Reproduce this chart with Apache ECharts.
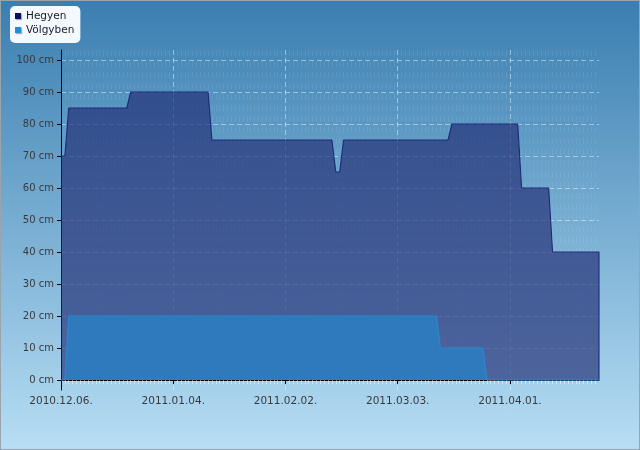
<!DOCTYPE html>
<html>
<head>
<meta charset="utf-8">
<script src="https://cdn.jsdelivr.net/npm/echarts@6/dist/echarts.min.js"></script>
<style>
html, body { margin: 0; padding: 0; }
#wrap { position: relative; width: 640px; height: 450px; background: linear-gradient(to bottom, #3a7eb0 0%, #b7def5 100%); }
#chart { width: 640px; height: 450px; }
#frame { position: absolute; left: 0; top: 0; width: 640px; height: 450px; box-sizing: border-box; border: 1px solid #9aa4ad; pointer-events: none; }
</style>
</head>
<body>
<div id="wrap"><div id="chart"></div><div id="frame"></div></div>
<script>
// time range and tick labels
var startDate = '2010-12-06';
var endDate = '2011-04-24';
var tickDates = ['2010-12-06', '2011-01-04', '2011-02-02', '2011-03-03', '2011-04-01'];
var yTicks = [0, 10, 20, 30, 40, 50, 60, 70, 80, 90, 100];

// Hegyen (mountain) snow depth, cm
var hegyenDates = ['2010-12-06', '2010-12-07', '2010-12-08', '2010-12-23', '2010-12-24', '2011-01-13', '2011-01-14',
    '2011-02-14', '2011-02-15', '2011-02-16', '2011-02-17', '2011-03-16', '2011-03-17', '2011-04-03', '2011-04-04',
    '2011-04-11', '2011-04-12', '2011-04-24', '2011-04-24'];
var hegyenValues = [70, 70, 85, 85, 90, 90, 75, 75, 65, 65, 75, 75, 80, 80, 60, 60, 40, 40, 0];

// Völgyben (valley) snow depth, cm
var volgyDates = ['2010-12-06', '2010-12-07', '2010-12-08', '2011-03-13', '2011-03-14', '2011-03-25', '2011-03-26', '2011-04-24'];
var volgyValues = [0, 0, 20, 20, 10, 10, 0, 0];

function ms(s) {
    var p = s.split('-');
    return Date.UTC(+p[0], +p[1] - 1, +p[2]);
}
var t0 = ms(startDate);
function dayOf(s) { return Math.round((ms(s) - t0) / 86400000); }
function pad(n) { return n < 10 ? '0' + n : '' + n; }
function fmtDay(d) {
    var dt = new Date(t0 + d * 86400000);
    return dt.getUTCFullYear() + '.' + pad(dt.getUTCMonth() + 1) + '.' + pad(dt.getUTCDate()) + '.';
}
function pairs(dates, values) {
    return dates.map(function (d, i) { return [dayOf(d), values[i]]; });
}

var chart = echarts.init(document.getElementById('chart'));
var font = 'DejaVu Sans';
chart.setOption({
    animation: false,
    backgroundColor: 'transparent',
    legend: {
        left: 10,
        top: 6,
        orient: 'vertical',
        backgroundColor: 'rgba(250,253,255,0.97)',
        borderRadius: 5,
        padding: [4, 6, 7, 5],
        itemGap: 2,
        itemWidth: 6,
        itemHeight: 6,
        itemStyle: { shadowBlur: 1, shadowColor: 'rgba(0,0,0,0.3)', shadowOffsetX: 1, shadowOffsetY: 1 },
        icon: 'rect',
        textStyle: { fontFamily: font, fontSize: 10.5, color: '#1a1a2a', lineHeight: 12 },
        data: [
            { name: 'Hegyen', itemStyle: { color: '#0c0c5e' } },
            { name: 'Völgyben', itemStyle: { color: '#1e8fe0' } }
        ]
    },
    grid: { left: 61, right: 41, top: 50, bottom: 60 },
    xAxis: {
        type: 'value',
        min: 0,
        max: dayOf(endDate),
        interval: 29,
        axisLine: { lineStyle: { color: '#000', width: 1 } },
        axisTick: { length: 4, lineStyle: { color: '#000' }, customValues: tickDates.map(dayOf) },
        axisLabel: {
            customValues: tickDates.map(dayOf),
            formatter: fmtDay,
            fontFamily: font, fontSize: 10.5, color: '#3a3a3a', margin: 6
        },
        splitLine: { show: true, lineStyle: { color: 'rgba(255,255,255,0.45)', type: [5, 3] } },
        minorTick: { show: true, splitNumber: 29, length: 4, lineStyle: { color: 'rgba(255,255,255,0.45)' } },
        minorSplitLine: { show: true, lineStyle: { color: 'rgba(255,255,255,0.08)', type: [6, 5] } }
    },
    yAxis: {
        type: 'value',
        min: -3.125,
        max: 103.125,
        axisLine: { show: true, lineStyle: { color: '#000', width: 1 } },
        axisTick: { show: true, length: 4, lineStyle: { color: '#000' }, customValues: yTicks },
        axisLabel: {
            customValues: yTicks,
            formatter: function (v) { return v + ' cm'; },
            fontFamily: font, fontSize: 10, color: '#3a3a3a', margin: 7
        },
        splitLine: { show: true, lineStyle: { color: 'rgba(255,255,255,0.45)', type: [5, 3] } }
    },
    series: [
        {
            name: 'Hegyen',
            type: 'line',
            showSymbol: false,
            symbol: 'none',
            data: pairs(hegyenDates, hegyenValues),
            itemStyle: { color: '#0c0c5e' },
            lineStyle: { color: '#1c2a78', width: 1.1 },
            areaStyle: { color: 'rgba(30,42,113,0.65)', opacity: 1 }
        },
        {
            name: 'Völgyben',
            type: 'line',
            showSymbol: false,
            symbol: 'none',
            data: pairs(volgyDates, volgyValues),
            itemStyle: { color: '#1e8fe0' },
            lineStyle: { color: '#2d86cf', width: 1.2 },
            areaStyle: { color: '#2f7abd', opacity: 1 }
        }
    ]
});
</script>
</body>
</html>
